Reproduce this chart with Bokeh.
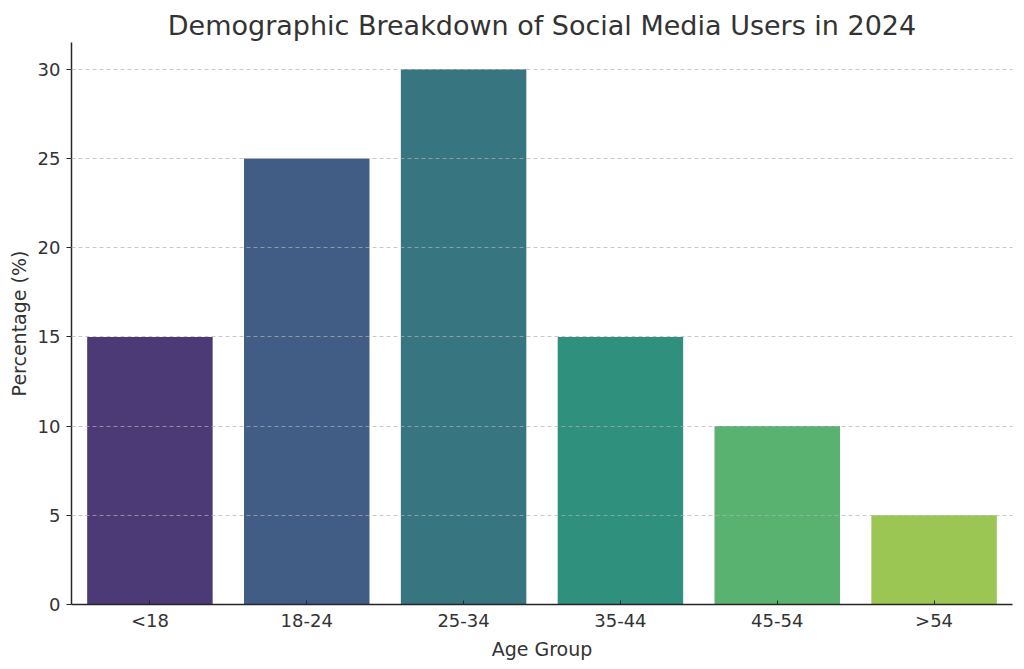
from bokeh.plotting import figure
from bokeh.models import ColumnDataSource, FixedTicker, Range1d
from bokeh.embed import file_html
from bokeh.resources import INLINE

age_groups = ["<18", "18-24", "25-34", "35-44", "45-54", ">54"]
percentages = [15, 25, 30, 15, 10, 5]
bar_colors = ["#4c3a76", "#415c85", "#377580", "#2f917d", "#59b26f", "#9bc653"]
y_ticks = [0, 5, 10, 15, 20, 25, 30]

source = ColumnDataSource(dict(age=age_groups, pct=percentages, color=bar_colors))

FONT = "DejaVu Sans"
TXT = "#333333"

p = figure(
    x_range=age_groups,
    y_range=Range1d(0, 31.5),
    frame_width=941,
    frame_height=562,
    output_backend="svg",
    toolbar_location=None,
    title="Demographic Breakdown of Social Media Users in 2024",
    min_border_left=71,
    min_border_right=12,
    min_border_top=42,
    min_border_bottom=0,
)
p.vbar(x="age", top="pct", width=0.8, source=source, fill_color="color", line_color=None)

p.title.align = "center"
p.title.text_font = FONT
p.title.text_font_size = "27px"
p.title.text_font_style = "normal"
p.title.text_color = TXT
p.title.offset = 0
p.title.standoff = 3

p.outline_line_color = None
p.background_fill_color = "white"
p.border_fill_color = "white"

p.xgrid.grid_line_color = None
p.ygrid.grid_line_color = "#b0b0b0"
p.ygrid.grid_line_alpha = 0.7
p.ygrid.grid_line_dash = "4 3"
p.ygrid.grid_line_width = 1
p.ygrid.level = "overlay"
p.yaxis.ticker = FixedTicker(ticks=y_ticks)

for ax in (p.xaxis[0], p.yaxis[0]):
    ax.axis_line_color = "#262626"
    ax.axis_line_width = 1.5
    ax.major_tick_line_color = "#262626"
    ax.major_label_text_font = FONT
    ax.major_label_text_font_size = "18px"
    ax.major_label_text_color = TXT
    ax.axis_label_text_font = FONT
    ax.axis_label_text_font_size = "19px"
    ax.axis_label_text_font_style = "normal"
    ax.axis_label_text_color = TXT
    ax.minor_tick_line_color = None

p.xaxis.axis_label = "Age Group"
p.yaxis.axis_label = "Percentage (%)"
p.xaxis.major_tick_in = 4
p.xaxis.major_tick_out = 0
p.yaxis.major_tick_in = 0
p.yaxis.major_tick_out = 5
p.xaxis.major_label_standoff = 5
p.yaxis.major_label_standoff = 6
p.xaxis.axis_label_standoff = 4
p.yaxis.axis_label_standoff = 5

open("out.html", "w").write(file_html(p, INLINE))
